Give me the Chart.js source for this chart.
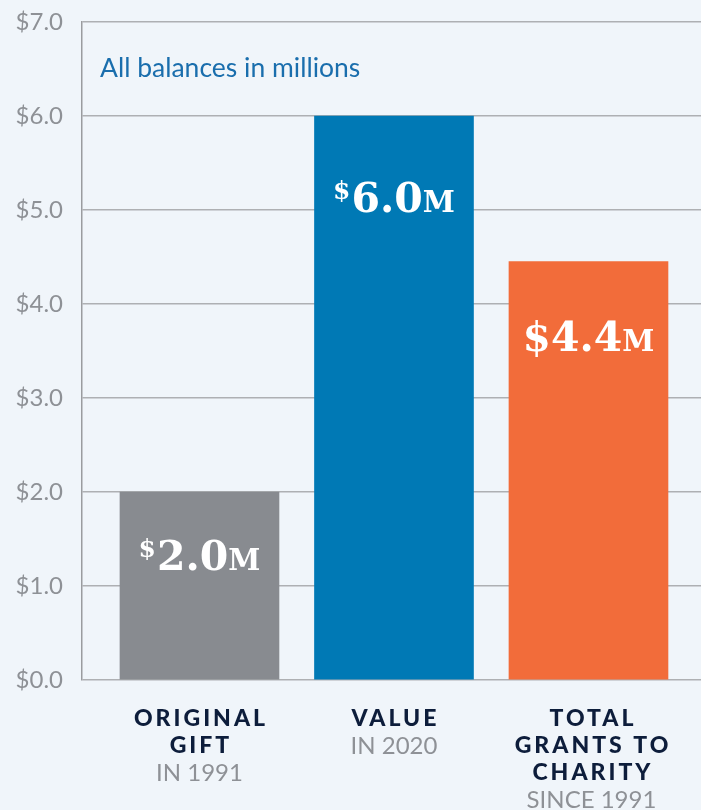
<!DOCTYPE html>
<html>
<head>
<meta charset="utf-8">
<script src="https://cdn.jsdelivr.net/npm/chart.js@4/dist/chart.umd.min.js"></script>
<style>
  html, body { margin: 0; padding: 0; background: #f0f5fa; }
  #wrap { width: 701px; height: 810px; }
</style>
</head>
<body>
<div id="wrap"><canvas id="c" width="701" height="810"></canvas></div>
<script>
// ---- data ----
const categoryTitles = [['ORIGINAL', 'GIFT'], ['VALUE'], ['TOTAL', 'GRANTS TO', 'CHARITY']];
const categorySubtitles = ['IN 1991', 'IN 2020', 'SINCE 1991'];
const values = [2.0, 6.0, 4.45];
const valueLabels = ['2.0', '6.0', '4.4'];
const dollarSuperscript = [true, true, false];
const yTickLabels = ['$0.0', '$1.0', '$2.0', '$3.0', '$4.0', '$5.0', '$6.0', '$7.0'];
const note = 'All balances in millions';

// ---- styles ----
const barColors = ['#888b90', '#0079b5', '#f26c3a'];
const labelBaselineOffsets = [78, 96, 89];

const bgPlugin = {
  id: 'bg',
  beforeDraw(chart) {
    const ctx = chart.ctx;
    ctx.save();
    ctx.fillStyle = '#f0f5fa';
    ctx.fillRect(0, 0, chart.width, chart.height);
    ctx.restore();
  }
};

const textPlugin = {
  id: 'texts',
  afterDatasetsDraw(chart) {
    const ctx = chart.ctx;
    const xs = chart.scales.x;
    const area = chart.chartArea;
    const meta = chart.getDatasetMeta(0);
    ctx.save();
    // note
    ctx.font = '400 26.5px Lato';
    ctx.fillStyle = '#1a6ead';
    ctx.textAlign = 'left';
    ctx.textBaseline = 'alphabetic';
    ctx.fillText(note, area.left + 18, 77);

    // value labels
    meta.data.forEach((bar, i) => {
      const cx = bar.x;
      const base = bar.y + labelBaselineOffsets[i];
      const bigFont = 'bold 41px "DejaVu Serif"';
      const smallFont = 'bold 29px "DejaVu Serif"';
      const supFont = 'bold 25px "DejaVu Serif"';
      const dollarFont = dollarSuperscript[i] ? supFont : bigFont;
      ctx.font = dollarFont; const wD = ctx.measureText('$').width;
      ctx.font = bigFont; const wN = ctx.measureText(valueLabels[i]).width;
      ctx.font = smallFont; const wM = ctx.measureText('M').width;
      const gap = dollarSuperscript[i] ? 1 : 0;
      let x = cx - (wD + gap + wN + wM) / 2;
      ctx.fillStyle = '#ffffff';
      ctx.textAlign = 'left';
      ctx.textBaseline = 'alphabetic';
      ctx.font = dollarFont;
      ctx.fillText('$', x, dollarSuperscript[i] ? base - 13 : base);
      x += wD + gap;
      ctx.font = bigFont;
      ctx.fillText(valueLabels[i], x, base);
      x += wN;
      ctx.font = smallFont;
      ctx.fillText('M', x, base);
    });

    // category labels
    categoryTitles.forEach((lines, i) => {
      const cx = xs.getPixelForValue(i) + (i === 2 ? 3 : 0);
      let y = area.bottom + 39;
      ctx.textAlign = 'center';
      ctx.textBaseline = 'middle';
      ctx.font = '900 23px Lato';
      ctx.letterSpacing = '3px';
      ctx.fillStyle = '#0d1d3b';
      lines.forEach(t => { ctx.fillText(t, cx + 1.5, y); y += 27; });
      ctx.letterSpacing = '0px';
      ctx.font = '400 24px Lato';
      ctx.fillStyle = '#8e9196';
      ctx.fillText(categorySubtitles[i], cx, y);
    });
    ctx.restore();
  }
};

new Chart(document.getElementById('c'), {
  type: 'bar',
  data: {
    datasets: [{
      data: values.map((v, i) => ({ x: i, y: v })),
      backgroundColor: barColors,
      borderWidth: 0,
      barThickness: 159
    }]
  },
  options: {
    responsive: false,
    animation: false,
    devicePixelRatio: 1,
    layout: { padding: { top: 22, bottom: 130, left: 0, right: 0 } },
    plugins: { legend: { display: false }, tooltip: { enabled: false } },
    scales: {
      x: {
        type: 'linear',
        display: false,
        min: -0.604,
        max: 2.5785,
        offset: false
      },
      y: {
        min: 0,
        max: 7,
        ticks: {
          stepSize: 1,
          padding: 19,
          color: '#8e9196',
          font: { family: 'Lato', size: 24, weight: '400' },
          callback: (v, idx) => yTickLabels[idx]
        },
        grid: { color: '#aeb0b3', lineWidth: 1.5, drawTicks: false },
        border: { display: true, color: '#9a9c9f', width: 1.5 },
        afterFit(scale) { scale.width = 82; scale.paddingTop = 0; scale.paddingBottom = 0; }
      }
    }
  },
  plugins: [bgPlugin, textPlugin]
});
</script>
</body>
</html>
